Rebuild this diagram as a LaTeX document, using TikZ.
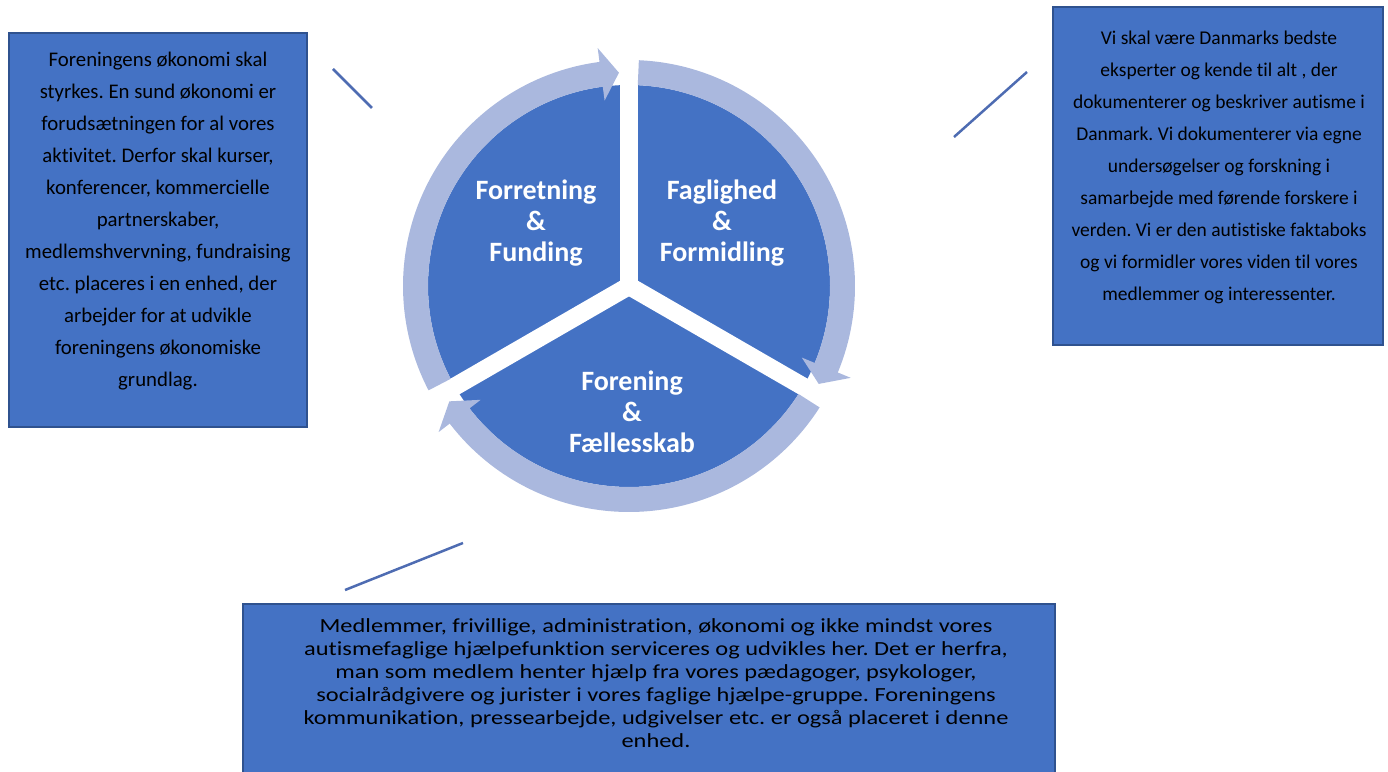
\documentclass[tikz,border=0pt]{standalone}
\usepackage{fontspec}
\setmainfont{Carlito}[Ligatures=NoCommon]
\newfontfamily\widefont[FakeStretch=1.22,Ligatures=NoCommon]{Carlito}
\usepackage{xcolor}
\definecolor{cycleblue}{RGB}{68,114,196}
\definecolor{ringblue}{RGB}{170,184,222}
\definecolor{boxedge}{RGB}{47,82,143}
\definecolor{linkblue}{RGB}{78,108,178}
\usepackage{tikz}
\usetikzlibrary{calc}
\frenchspacing

\begin{document}
\begin{tikzpicture}[x=1pt,y=1pt,
    infobox/.style={fill=cycleblue,draw=boxedge,line width=1.5},
    boxtext/.style={align=center,text=black,inner sep=0},
    segtext/.style={align=center,text=white,inner sep=0,font=\fontsize{28}{31}\selectfont\bfseries},
    link/.style={linkblue,line width=2.5}]
            % Canvas
            \useasboundingbox (0,0) rectangle (1388,771);
            % Parameters
            \def\Ro{226}    % ring outer radius
            \def\Ri{201}    % ring inner radius = pie radius
            \def\Rm{213.5}  % arrow tip radius
            \def\Rho{240}   % arrow head, outer corner
            \def\Rhi{187}   % arrow head, inner corner
            \def\gap{18}    % white gap between the segments
            % Centre of the cycle
            \coordinate (O) at (629,485);
            \begin{scope}[shift={(O)}]
            % Pie
            \fill[cycleblue] (0,0) circle[radius=\Ri];
            % White gaps
            \draw[white,line width=\gap] (0,0) -- (90:\Ri+3);
            \draw[white,line width=\gap] (0,0) -- (210:\Ri+3);
            \draw[white,line width=\gap] (0,0) -- (330:\Ri+3);
            % Ring arrows
            \fill[ringblue] (207.5:\Ro) arc[start angle=207.5,end angle=97.5,radius=\Ro]
                -- (97.5:\Rho) -- (92.7:\Rm) -- (97.5:\Rhi) -- (97.5:\Ri)
                arc[start angle=97.5,end angle=207.5,radius=\Ri] -- cycle;
            \fill[ringblue] (87.5:\Ro) arc[start angle=87.5,end angle=-22.5,radius=\Ro]
                -- (-22.5:\Rho) -- (-27.3:\Rm) -- (-22.5:\Rhi) -- (-22.5:\Ri)
                arc[start angle=-22.5,end angle=87.5,radius=\Ri] -- cycle;
            \fill[ringblue] (-32.5:\Ro) arc[start angle=-32.5,end angle=-142.5,radius=\Ro]
                -- (-142.5:\Rho) -- (-147.3:\Rm) -- (-142.5:\Rhi) -- (-142.5:\Ri)
                arc[start angle=-142.5,end angle=-32.5,radius=\Ri] -- cycle;
            \end{scope}
            % Segment labels
            \node[segtext] (funding) at (536,548) {Forretning\\\&\\Funding};
            \node[segtext] (faglighed) at (722,548) {Faglighed\\\&\\Formidling};
            \node[segtext] (forening) at (632,359) {Forening\\\&\\Fællesskab};
            % Box corners
            \coordinate (finSW) at (9,344);     % left box
            \coordinate (finNE) at (307,738);
            \coordinate (fagSW) at (1053,426);  % right box
            \coordinate (fagNE) at (1383,764);
            \coordinate (forSW) at (243,-4);    % bottom box
            \coordinate (forNE) at (1055,167);
            % Boxes
            \draw[infobox] (finSW) rectangle (finNE);
            \draw[infobox] (fagSW) rectangle (fagNE);
            \draw[infobox] (forSW) rectangle (forNE);
            % Box texts
            \node[boxtext,font=\fontsize{20.8}{32}\selectfont] (fintext) at (158,550)
                {Foreningens økonomi skal\\styrkes. En sund økonomi er\\forudsætningen for al vores\\aktivitet. Derfor skal kurser,\\konferencer, kommercielle\\partnerskaber,\\medlemshvervning, fundraising\\etc. placeres i en enhed, der\\arbejder for at udvikle\\foreningens økonomiske\\grundlag.};
            \node[boxtext,font=\fontsize{19.5}{32}\selectfont] (fagtext) at (1219,604)
                {Vi skal være Danmarks bedste\\eksperter og kende til alt , der\\dokumenterer og beskriver autisme i\\Danmark. Vi dokumenterer via egne\\undersøgelser og forskning i\\samarbejde med førende forskere i\\verden. Vi er den autistiske faktaboks\\og vi formidler vores viden til vores\\medlemmer og interessenter.};
            \node[boxtext,font=\widefont\fontsize{20}{23}\selectfont] (fortext) at (656,88)
                {Medlemmer, frivillige, administration, økonomi og ikke mindst vores\\autismefaglige hjælpefunktion serviceres og udvikles her. Det er herfra,\\man som medlem henter hjælp fra vores pædagoger, psykologer,\\socialrådgivere og jurister i vores faglige hjælpe-gruppe. Foreningens\\kommunikation, pressearbejde, udgivelser etc. er også placeret i denne\\enhed.};
            % Link strokes
            \coordinate (finA) at (333,702);
            \coordinate (finB) at (372,663);
            \coordinate (fagA) at (954,634);
            \coordinate (fagB) at (1027,699);
            \coordinate (forA) at (345,181);
            \coordinate (forB) at (463,228);
            \draw[link] (finA) -- (finB);
            \draw[link] (fagA) -- (fagB);
            \draw[link] (forA) -- (forB);
\end{tikzpicture}
\end{document}
